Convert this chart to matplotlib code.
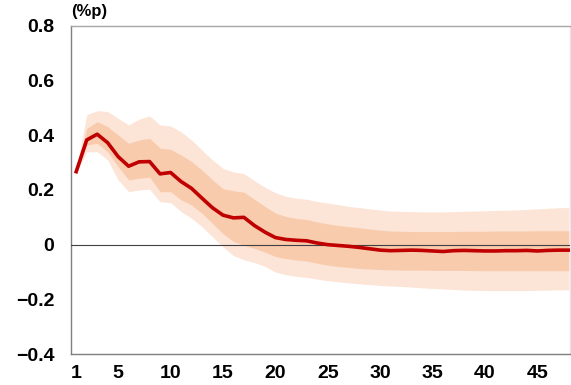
import matplotlib
matplotlib.use("Agg")
import matplotlib.pyplot as plt
import numpy as np

plt.rcParams['font.family'] = ['Liberation Sans', 'DejaVu Sans']

horizon = list(range(1, 49))
response = [0.267, 0.383, 0.404, 0.373, 0.322, 0.287, 0.303, 0.304, 0.259, 0.264,
            0.231, 0.206, 0.170, 0.135, 0.108, 0.098, 0.100, 0.070, 0.046, 0.026,
            0.019, 0.016, 0.014, 0.006, 0.000, -0.003, -0.006, -0.010, -0.015, -0.020,
            -0.022, -0.021, -0.020, -0.021, -0.023, -0.025, -0.022, -0.021, -0.022, -0.023,
            -0.023, -0.022, -0.022, -0.021, -0.023, -0.021, -0.020, -0.020]
outer_upper = [0.272, 0.475, 0.490, 0.487, 0.462, 0.438, 0.459, 0.471, 0.438, 0.434,
               0.413, 0.383, 0.346, 0.310, 0.279, 0.266, 0.260, 0.234, 0.210, 0.190,
               0.177, 0.170, 0.166, 0.158, 0.152, 0.146, 0.140, 0.136, 0.131, 0.127,
               0.123, 0.122, 0.121, 0.120, 0.120, 0.120, 0.121, 0.122, 0.123, 0.124,
               0.125, 0.126, 0.127, 0.129, 0.131, 0.133, 0.135, 0.136]
inner_upper = [0.270, 0.425, 0.450, 0.432, 0.401, 0.371, 0.383, 0.389, 0.353, 0.349,
               0.328, 0.304, 0.273, 0.237, 0.205, 0.197, 0.192, 0.166, 0.140, 0.116,
               0.103, 0.096, 0.092, 0.083, 0.076, 0.070, 0.066, 0.062, 0.057, 0.053,
               0.050, 0.049, 0.048, 0.048, 0.048, 0.048, 0.048, 0.049, 0.049, 0.049,
               0.050, 0.050, 0.050, 0.050, 0.051, 0.051, 0.051, 0.051]
inner_lower = [0.264, 0.365, 0.371, 0.340, 0.285, 0.237, 0.243, 0.247, 0.194, 0.194,
               0.164, 0.145, 0.115, 0.078, 0.040, 0.012, -0.002, -0.014, -0.027, -0.043,
               -0.051, -0.056, -0.060, -0.068, -0.075, -0.080, -0.083, -0.087, -0.089, -0.091,
               -0.092, -0.093, -0.093, -0.093, -0.094, -0.094, -0.094, -0.094, -0.095, -0.095,
               -0.095, -0.095, -0.095, -0.095, -0.095, -0.095, -0.095, -0.095]
outer_lower = [0.262, 0.340, 0.340, 0.310, 0.237, 0.194, 0.200, 0.203, 0.157, 0.154,
               0.121, 0.097, 0.066, 0.029, -0.008, -0.040, -0.055, -0.065, -0.079, -0.100,
               -0.110, -0.116, -0.120, -0.126, -0.132, -0.136, -0.140, -0.143, -0.146, -0.149,
               -0.151, -0.153, -0.155, -0.158, -0.160, -0.162, -0.164, -0.166, -0.167, -0.168,
               -0.168, -0.168, -0.168, -0.168, -0.167, -0.166, -0.165, -0.165]

x_ticks = [1, 5, 10, 15, 20, 25, 30, 35, 40, 45]
y_ticks = [-0.4, -0.2, 0, 0.2, 0.4, 0.6, 0.8]
y_tick_labels = ['\u22120.4', '\u22120.2', '0', '0.2', '0.4', '0.6', '0.8']
unit_label = '(%p)'

fig = plt.figure(figsize=(5.71, 3.85), dpi=100)
ax = fig.add_axes([0.1243, 0.0805, 0.8737, 0.852])

ax.fill_between(horizon, outer_lower, outer_upper, color='#FCE4D6', lw=0, zorder=1)
ax.fill_between(horizon, inner_lower, inner_upper, color='#F8CBAD', lw=0, zorder=2)
ax.axhline(0, color='#404040', lw=0.8, zorder=3)
ax.plot(horizon, response, color='#C00000', lw=2.6, zorder=4, solid_joinstyle='round')

ax.set_xlim(0.5, 48.1)
ax.set_ylim(-0.4, 0.8)
ax.set_xticks(x_ticks)
ax.set_xticklabels([str(t) for t in x_ticks])
ax.set_yticks(y_ticks)
ax.set_yticklabels(y_tick_labels)
ax.tick_params(axis='both', length=0, labelsize=14)
ax.tick_params(axis='y', pad=12)
ax.tick_params(axis='x', pad=8)
for lab in ax.get_xticklabels() + ax.get_yticklabels():
    lab.set_fontweight('bold')

ax.spines['left'].set_color('#7F7F7F')
ax.spines['bottom'].set_color('#7F7F7F')
ax.spines['top'].set_color('#A6A6A6')
ax.spines['right'].set_color('#E6E6E6')
for s in ax.spines.values():
    s.set_linewidth(1.0)

ax.text(0.0, 1.02, unit_label, transform=ax.transAxes, fontsize=12,
        fontweight='bold', ha='left', va='bottom')

fig.savefig('out.png', dpi=100)
